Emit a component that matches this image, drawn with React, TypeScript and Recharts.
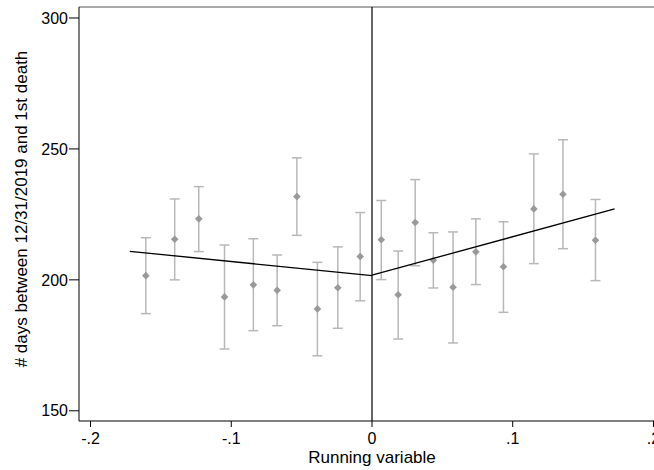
import React from 'react';
import {
  ScatterChart,
  Scatter,
  XAxis,
  YAxis,
  ErrorBar,
  ReferenceLine,
} from 'recharts';

// bin midpoints of the running variable
const binX = [
  -0.1607, -0.1402, -0.1231, -0.1048, -0.0843, -0.0674, -0.0534, -0.0388, -0.0243, -0.0084,
  0.0066, 0.0186, 0.0307, 0.0436, 0.0576, 0.0738, 0.0934, 0.115, 0.1357, 0.1588,
];
// bin means and 95% CI bounds
const binMean = [
  201.6, 215.5, 223.3, 193.5, 198.1, 196.0, 231.8, 188.9, 197.0, 208.9,
  215.3, 194.3, 221.9, 207.5, 197.2, 210.7, 205.0, 227.1, 232.7, 215.1,
];
const binLow = [
  187.1, 200.0, 210.8, 173.6, 180.6, 182.5, 217.0, 171.0, 181.5, 192.0,
  200.1, 177.4, 205.4, 196.9, 175.9, 198.2, 187.6, 206.2, 211.9, 199.7,
];
const binHigh = [
  216.1, 230.9, 235.6, 213.3, 215.7, 209.5, 246.6, 206.7, 212.6, 225.7,
  230.3, 211.0, 238.3, 218.0, 218.3, 223.3, 222.2, 248.1, 253.5, 230.7,
];

// linear fits on each side of the cutoff
const fitLeftX = [-0.1721, 0];
const fitLeftY = [210.9, 201.6];
const fitRightX = [0, 0.1724];
const fitRightY = [201.8, 227.1];

const xTicks = [-0.2, -0.1, 0, 0.1, 0.2];
const yTicks = [150, 200, 250, 300];
const xDomain = [-0.2082, 0.2082];
const yDomain = [146.1, 304.2];

const FONT = '"Liberation Sans", Arial, Helvetica, sans-serif';

const bins = binX.map((x, i) => ({
  x,
  y: binMean[i],
  err: [binMean[i] - binLow[i], binHigh[i] - binMean[i]],
}));
const fitLeft = fitLeftX.map((x, i) => ({ x, y: fitLeftY[i] }));
const fitRight = fitRightX.map((x, i) => ({ x, y: fitRightY[i] }));

const fmtX = (v: number) => (v === 0 ? '0' : String(v).replace('0.', '.'));

const Diamond = (props: any) => {
  const { cx, cy } = props;
  if (cx == null || cy == null) return null;
  const r = 3.8;
  return (
    <polygon
      points={`${cx},${cy - r} ${cx + r},${cy} ${cx},${cy + r} ${cx - r},${cy}`}
      fill="#999999"
    />
  );
};

const NoDot = () => null;

const YTitle = (props: any) => {
  const vb = props.viewBox || { x: 0, y: 7, width: 79, height: 414 };
  const cx = vb.x + 21;
  const cy = vb.y + vb.height / 2 - 5;
  return (
    <text
      x={cx}
      y={cy}
      transform={`rotate(-90, ${cx}, ${cy})`}
      textAnchor="middle"
      dominantBaseline="central"
      fontFamily={FONT}
      fontSize={17}
      fill="#000"
    >
      # days between 12/31/2019 and 1st death
    </text>
  );
};

export default function App() {
  return (
    <div
      style={{
        position: 'absolute',
        left: 0,
        top: 0,
        width: 654,
        height: 470,
        overflow: 'hidden',
        background: '#fff',
      }}
    >
      <ScatterChart
        width={665}
        height={470}
        margin={{ top: 7, right: 0, bottom: 0, left: 0 }}
      >
        <XAxis
          type="number"
          dataKey="x"
          domain={xDomain}
          allowDataOverflow
          ticks={xTicks}
          tickFormatter={fmtX}
          height={49}
          tickSize={6}
          tickMargin={6}
          stroke="#000"
          tick={{ fill: '#000', fontSize: 16, fontFamily: FONT }}
          label={{
            value: 'Running variable',
            position: 'insideBottom',
            offset: 7,
            fill: '#000',
            fontSize: 17,
            fontFamily: FONT,
          }}
        />
        <YAxis
          type="number"
          dataKey="y"
          domain={yDomain}
          allowDataOverflow
          ticks={yTicks}
          width={79}
          tickSize={10}
          tickMargin={1}
          stroke="#000"
          tick={{ fill: '#000', fontSize: 16, fontFamily: FONT }}
          label={<YTitle />}
        />
        <ReferenceLine y={yDomain[1]} stroke="#555" strokeWidth={1} />
        <ReferenceLine x={0} stroke="#000" strokeWidth={1.2} />
        <Scatter data={bins} shape={<Diamond />} isAnimationActive={false}>
          <ErrorBar
            dataKey="err"
            direction="y"
            width={5}
            stroke="#b8b8b8"
            strokeWidth={1.5}
            isAnimationActive={false}
          />
        </Scatter>
        <Scatter
          data={fitLeft}
          line={{ stroke: '#000', strokeWidth: 1.3 }}
          shape={<NoDot />}
          isAnimationActive={false}
        />
        <Scatter
          data={fitRight}
          line={{ stroke: '#000', strokeWidth: 1.3 }}
          shape={<NoDot />}
          isAnimationActive={false}
        />
      </ScatterChart>
    </div>
  );
}
